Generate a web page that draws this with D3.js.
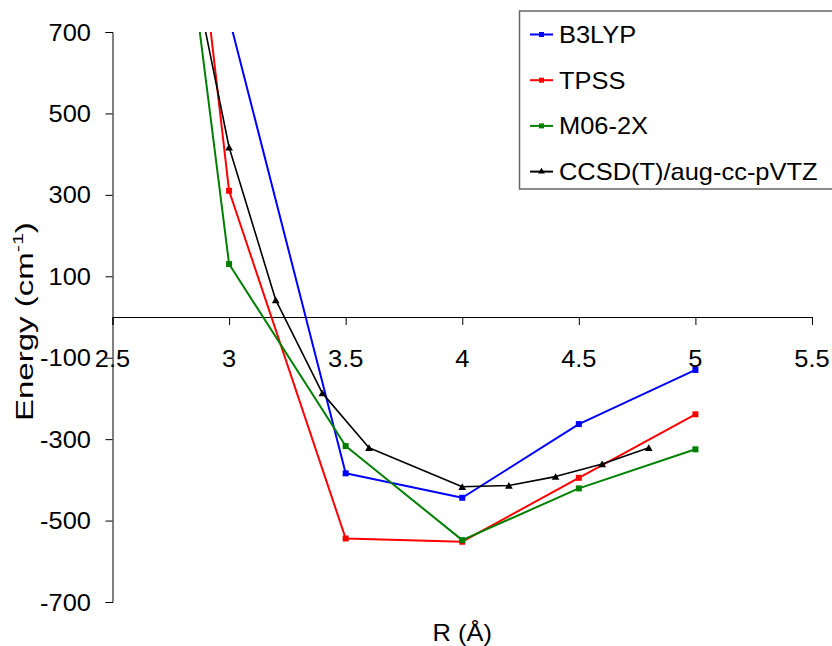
<!DOCTYPE html>
<html><head><meta charset="utf-8">
<script src="https://cdn.jsdelivr.net/npm/d3@7"></script>
<style>body{margin:0;background:#fff;} svg{display:block;font-family:Arial,"Liberation Sans",sans-serif;}</style>
</head><body><div id="chart"></div>
<script>
const seriesNames = ["B3LYP", "TPSS", "M06-2X", "CCSD(T)/aug-cc-pVTZ"];
const seriesColors = ["#0000FF", "#FF0000", "#008000", "#000000"];
const rDFT = [2.5, 3.0, 3.5, 4.0, 4.5, 5.0];
const b3lyp = [null, 735, -384, -444, -263, -130];
const tpss = [2800, 310, -544, -552, -395, -239];
const m062x = [2400, 130, -317, -548, -421, -325];
const rCC = [2.8, 3.0, 3.2, 3.4, 3.6, 4.0, 4.2, 4.4, 4.6, 4.8];
const ccsd = [980, 417, 42, -187, -321, -417, -414, -392, -361, -321];
const xTicks = [2.5, 3, 3.5, 4, 4.5, 5, 5.5];
const yTicks = [700, 500, 300, 100, -100, -300, -500, -700];

const W = 832, H = 646;
const FS = 24, SX = 1.06;
const svg = d3.select("#chart").append("svg").attr("width", W).attr("height", H);
const x = d3.scaleLinear().domain([2.5, 5.5]).range([112.5, 812]);
const y = d3.scaleLinear().domain([-700, 700]).range([602, 32]);

function stxt(px, py, s, anchor) {
  return svg.append("text")
    .attr("transform", `translate(${px},${py}) scale(${SX},1)`)
    .attr("text-anchor", anchor || "start")
    .attr("font-size", FS).attr("fill", "#000").text(s);
}

// y axis
const yAxis = d3.axisLeft(y).tickValues(yTicks).tickSize(7).tickFormat(() => "");
const gy = svg.append("g").attr("transform", `translate(${x(2.5)},0)`).call(yAxis);
gy.select(".domain").attr("stroke", "#000").attr("stroke-width", 1);
gy.selectAll(".tick line").attr("stroke", "#000");
yTicks.forEach(v => stxt(91, y(v) + 8.5, String(v), "end"));

// x axis at y=0
const xAxis = d3.axisBottom(x).tickValues(xTicks).tickSize(8).tickFormat(() => "");
const gx = svg.append("g").attr("transform", `translate(0,${y(0)})`).call(xAxis);
gx.select(".domain").attr("stroke", "#000").attr("stroke-width", 1);
gx.selectAll(".tick line").attr("stroke", "#000");
xTicks.forEach(v => stxt(x(v), y(0) + 49.5, String(v), "middle"));

// clip
svg.append("clipPath").attr("id", "clip").append("rect")
  .attr("x", x(2.5)).attr("y", y(700)).attr("width", x(5.5) - x(2.5)).attr("height", y(-700) - y(700));

const plot = svg.append("g").attr("clip-path", "url(#clip)");
const series = [
  {xs: rDFT, ys: b3lyp, c: seriesColors[0], m: "sq"},
  {xs: rDFT, ys: tpss, c: seriesColors[1], m: "sq"},
  {xs: rDFT, ys: m062x, c: seriesColors[2], m: "sq"},
  {xs: rCC, ys: ccsd, c: seriesColors[3], m: "tri"}
];
const line = d3.line().defined(d => d[1] != null).x(d => x(d[0])).y(d => y(d[1]));
series.forEach(s => {
  const pts = s.xs.map((r, i) => [r, s.ys[i]]);
  plot.append("path").datum(pts).attr("d", line).attr("fill", "none")
    .attr("stroke", s.c).attr("stroke-width", s.m === "tri" ? 1.6 : 2).attr("stroke-linejoin", "round");
  const sym = d3.symbol().type(s.m === "tri" ? d3.symbolTriangle : d3.symbolSquare).size(s.m === "tri" ? 26 : 36);
  plot.selectAll(null).data(pts.filter(d => d[1] != null)).enter().append("path")
    .attr("d", sym).attr("transform", d => `translate(${x(d[0])},${y(d[1]) + (s.m === "tri" ? 1 : 0)})`)
    .attr("fill", s.c);
});

// legend
svg.append("rect").attr("x", 519.5).attr("y", 11).attr("width", 330).attr("height", 178)
  .attr("fill", "#fff").attr("stroke", "#666").attr("stroke-width", 1.5);
seriesNames.forEach((n, i) => {
  const ly = 34.5 + i * 45.7;
  svg.append("line").attr("x1", 530).attr("x2", 553).attr("y1", ly).attr("y2", ly)
    .attr("stroke", seriesColors[i]).attr("stroke-width", 2);
  const sym = d3.symbol().type(i === 3 ? d3.symbolTriangle : d3.symbolSquare).size(i === 3 ? 20 : 25);
  svg.append("path").attr("d", sym).attr("transform", `translate(541.5,${ly})`).attr("fill", seriesColors[i]);
  stxt(559, ly + 8.5, n, "start");
});

// axis titles
stxt(x(4), 641, "R (Å)", "middle");
const ytg = svg.append("g");
const yt = ytg.append("text").attr("font-size", 23).attr("fill", "#000").attr("text-anchor", "start");
yt.append("tspan").text("Energy (cm");
yt.append("tspan").attr("font-size", 15).attr("dy", -10).text("-1");
yt.append("tspan").attr("dy", 10).text(")");
const natLen = yt.node().getComputedTextLength();
const wantLen = 421 - 222;
ytg.attr("transform", `translate(33,421) rotate(-90) scale(${wantLen / natLen},1)`);
</script></body></html>
